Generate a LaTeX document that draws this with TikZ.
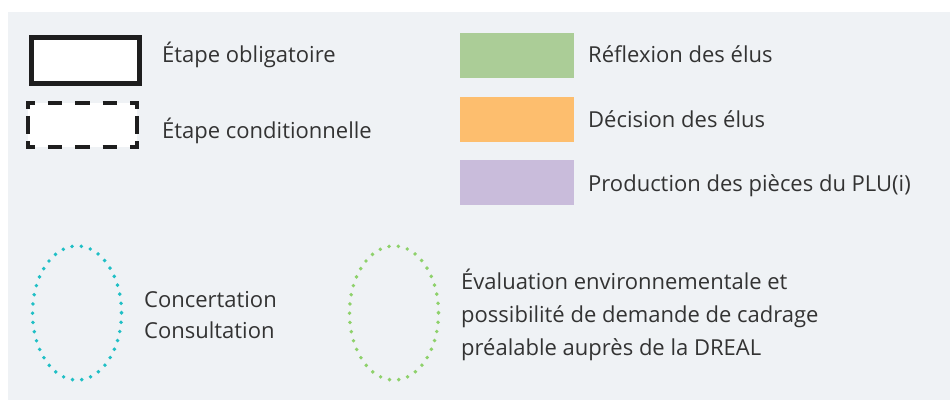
\documentclass[tikz,border=0pt]{standalone}
\usepackage{fontspec}
\setmainfont{Open Sans}
\definecolor{panel}{HTML}{EFF2F5}
\definecolor{txt}{HTML}{333333}
\definecolor{reflex}{HTML}{ABCD97}
\definecolor{decis}{HTML}{FDBE6E}
\definecolor{prod}{HTML}{C9BCDB}
\definecolor{teal}{HTML}{1FBFC5}
\definecolor{lgreen}{HTML}{8ED16B}
\definecolor{ink}{HTML}{1E1E1E}
\tikzset{
  lbl/.style={anchor=base west, text=txt, font=\fontsize{22}{32}\selectfont, inner sep=0pt, align=left},
  swatch/.style={draw=none, minimum width=114pt, minimum height=45pt, inner sep=0pt, anchor=north west},
  dotring/.style={line width=3.9pt, line cap=round, dash pattern=on 0pt off 9.3pt},
  hdash/.style={draw=ink, line width=4pt, dash pattern=on 14.5pt off 12.9pt, dash phase=5.5pt},
  vdash/.style={draw=ink, line width=4pt, dash pattern=on 18.3pt off 7.15pt, dash phase=10.6pt}
}
\begin{document}
\begin{tikzpicture}[x=1pt,y=-1pt]
\useasboundingbox (0,0) rectangle (950,412);
\fill[white] (0,0) rectangle (950,412);
\fill[panel] (8,12) rectangle (950,400);
% box styles
\node[draw=ink, fill=white, line width=5pt, minimum width=108pt, minimum height=45pt, inner sep=0pt, anchor=north west] (oblig) at (28.5,35.5) {};
\node[lbl] (obligt) at (162,63) {Étape obligatoire};
\node[fill=white, minimum width=109pt, minimum height=44pt, inner sep=0pt, anchor=north west] (cond) at (28,103) {};
\coordinate (c1) at (26,103);
\coordinate (c2) at (139,103);
\coordinate (c3) at (26,147);
\coordinate (c4) at (139,147);
\coordinate (v1) at (28,101);
\coordinate (v2) at (28,149);
\coordinate (v3) at (137,101);
\coordinate (v4) at (137,149);
\draw[hdash] (c1) -- (c2);
\draw[hdash] (c3) -- (c4);
\draw[vdash] (v1) -- (v2);
\draw[vdash] (v3) -- (v4);
\node[lbl] (condt) at (162,138) {Étape conditionnelle};
% colour swatches
\node[swatch, fill=reflex] (refl) at (460,33) {};
\node[lbl] (reflt) at (588,63) {Réflexion des élus};
\node[swatch, fill=decis] (dec) at (460,97) {};
\node[lbl] (dect) at (588,127) {Décision des élus};
\node[swatch, fill=prod] (pro) at (460,160) {};
\node[lbl] (prot) at (588,191) {Production des pièces du PLU(i)};
% ellipses
\draw[dotring, teal] (77,313) ellipse [x radius=44.5, y radius=67];
\node[lbl, font=\fontsize{22}{31}\selectfont] (conc) at (144,338) {Concertation\\Consultation};
\draw[dotring, lgreen] (394,313) ellipse [x radius=44.5, y radius=67];
\node[lbl, font=\fontsize{22}{33}\selectfont] (eval) at (461,355) {Évaluation environnementale et\\possibilité de demande de cadrage\\préalable auprès de la DREAL};
\end{tikzpicture}
\end{document}
